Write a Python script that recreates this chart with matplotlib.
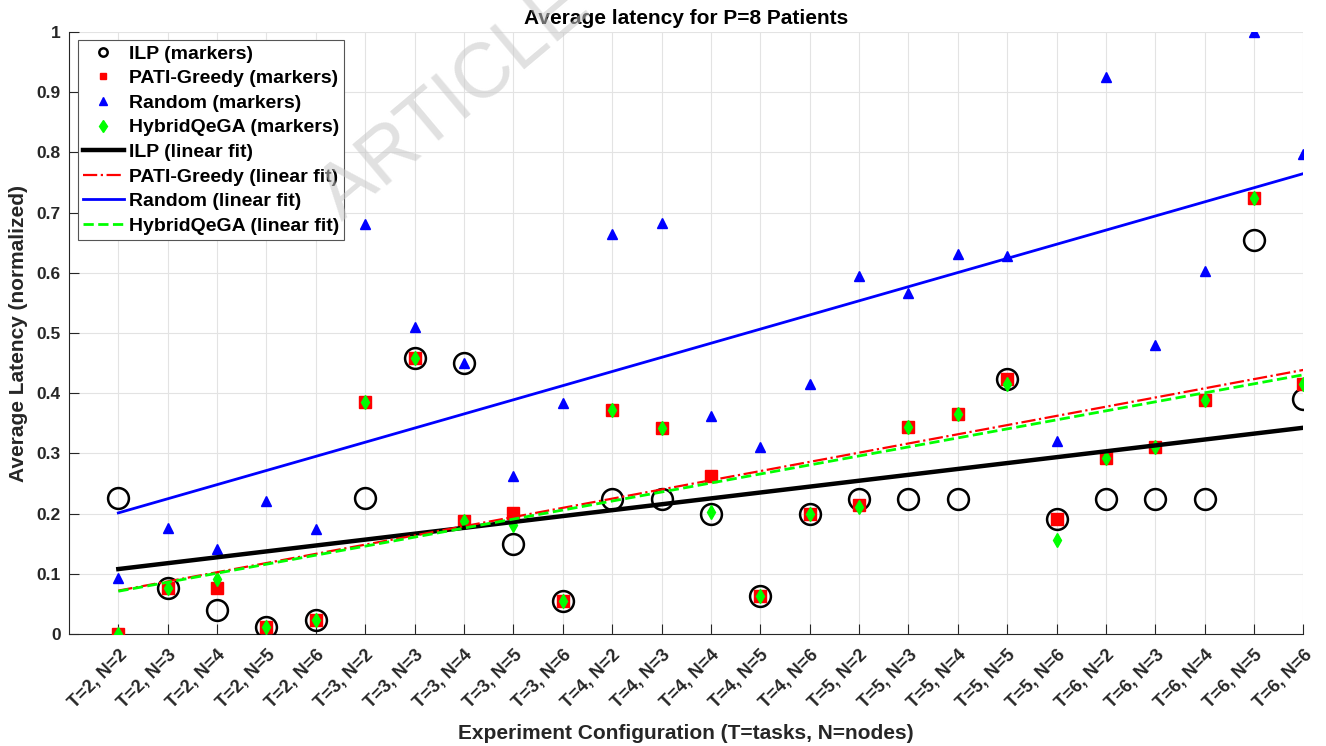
"""Average latency per experiment configuration, markers plus linear fits."""
import matplotlib
matplotlib.use("Agg")
import matplotlib.pyplot as plt
import numpy as np

plt.rcParams["font.family"] = ["Liberation Sans", "DejaVu Sans"]
plt.rcParams["font.weight"] = "bold"

# ── data ─────────────────────────────────────────────────────────────────────
configs = [f"T={t}, N={n}" for t in range(2, 7) for n in range(2, 7)]

ilp = [0.226, 0.076, 0.040, 0.012, 0.023,
       0.226, 0.458, 0.451, 0.149, 0.055,
       0.225, 0.225, 0.200, 0.063, 0.200,
       0.225, 0.224, 0.224, 0.424, 0.192,
       0.224, 0.224, 0.224, 0.654, 0.391]
pati = [0.000, 0.076, 0.076, 0.012, 0.023,
        0.385, 0.458, 0.188, 0.201, 0.055,
        0.372, 0.343, 0.263, 0.063, 0.200,
        0.215, 0.344, 0.365, 0.424, 0.192,
        0.293, 0.311, 0.389, 0.725, 0.415]
rand = [0.093, 0.177, 0.141, 0.221, 0.174,
        0.681, 0.510, 0.451, 0.263, 0.384,
        0.665, 0.683, 0.363, 0.310, 0.415,
        0.594, 0.567, 0.631, 0.628, 0.321,
        0.925, 0.481, 0.603, 1.000, 0.797]
hybrid = [0.000, 0.076, 0.091, 0.012, 0.023,
          0.385, 0.458, 0.188, 0.181, 0.055,
          0.372, 0.343, 0.202, 0.063, 0.200,
          0.211, 0.344, 0.365, 0.415, 0.157,
          0.293, 0.311, 0.389, 0.725, 0.415]

x = np.arange(1, len(configs) + 1)

fig = plt.figure(figsize=(13.26, 7.46), dpi=100)
ax = fig.add_axes([0.052, 0.150, 0.931, 0.807])

# markers
ax.plot(x, ilp, "o", ms=15, mfc="none", mec="black", mew=1.8,
        label="ILP (markers)", zorder=3)
ax.plot(x, pati, "s", ms=9, mfc="#ff0000", mec="#ff0000",
        label="PATI-Greedy (markers)", zorder=4)
ax.plot(x, rand, "^", ms=7, mfc="#0000ff", mec="#0000ff",
        label="Random (markers)", zorder=5)
ax.plot(x, hybrid, "d", ms=7.5, mfc="#00ff00", mec="#00ff00",
        label="HybridQeGA (markers)", zorder=6)

# linear fits
for y, col, ls, lw, name in [
    (ilp, "black", "-", 3.2, "ILP"),
    (pati, "#ff0000", "-.", 1.6, "PATI-Greedy"),
    (rand, "#0000ff", "-", 2.0, "Random"),
    (hybrid, "#00ff00", "--", 2.0, "HybridQeGA"),
]:
    k, b = np.polyfit(x, y, 1)
    ax.plot(x, k * x + b, color=col, ls=ls, lw=lw,
            label=f"{name} (linear fit)", zorder=7)

ax.set_xlim(0, len(configs))
ax.set_ylim(0, 1)
ax.set_xticks(x)
ax.set_xticklabels(configs, rotation=45, ha="right", rotation_mode="anchor",
                   fontsize=13, fontweight="bold", color="#262626")
ax.set_yticks(np.arange(0, 1.01, 0.1))
ax.set_yticklabels(["0"] + [f"{v:.1f}" for v in np.arange(0.1, 0.95, 0.1)] + ["1"],
                   fontsize=12.5, fontweight="bold", color="#262626")
ax.tick_params(direction="in", length=7, width=0.8, color="#262626")
ax.tick_params(axis="x", pad=9)
ax.tick_params(axis="y", pad=6)
ax.grid(True, color="#e3e3e3", lw=0.8)
ax.set_axisbelow(True)
for side in ("top", "right"):
    ax.spines[side].set_visible(False)
for side in ("left", "bottom"):
    ax.spines[side].set_color("#262626")
    ax.spines[side].set_linewidth(0.8)

ax.set_title("Average latency for P=8 Patients", fontsize=15,
             fontweight="bold", pad=6)
ax.set_xlabel("Experiment Configuration (T=tasks, N=nodes)", fontsize=15,
              fontweight="bold", color="#262626", labelpad=9)
ax.set_ylabel("Average Latency (normalized)", fontsize=15,
              fontweight="bold", color="#262626", labelpad=6)

leg = ax.legend(loc="upper left", bbox_to_anchor=(0.0073, 0.9867), fontsize=14,
                frameon=True, fancybox=False, framealpha=1, edgecolor="#555555",
                handlelength=2.1, handletextpad=0.25, labelspacing=0.36,
                borderpad=0.25, borderaxespad=0.0)
leg.get_frame().set_linewidth(0.8)
leg.set_zorder(10)
for h, ms in zip(leg.legend_handles[:4], [6, 5, 6, 6]):
    h.set_markersize(ms)

# journal watermark
fig.text(0.258, 0.702, "ARTICLE IN PRESS", rotation=40, rotation_mode="anchor",
         ha="left", va="baseline", fontsize=56, fontweight="normal",
         color="#c8c8c8", alpha=0.55, zorder=20)

fig.savefig("out.png", dpi=100)
